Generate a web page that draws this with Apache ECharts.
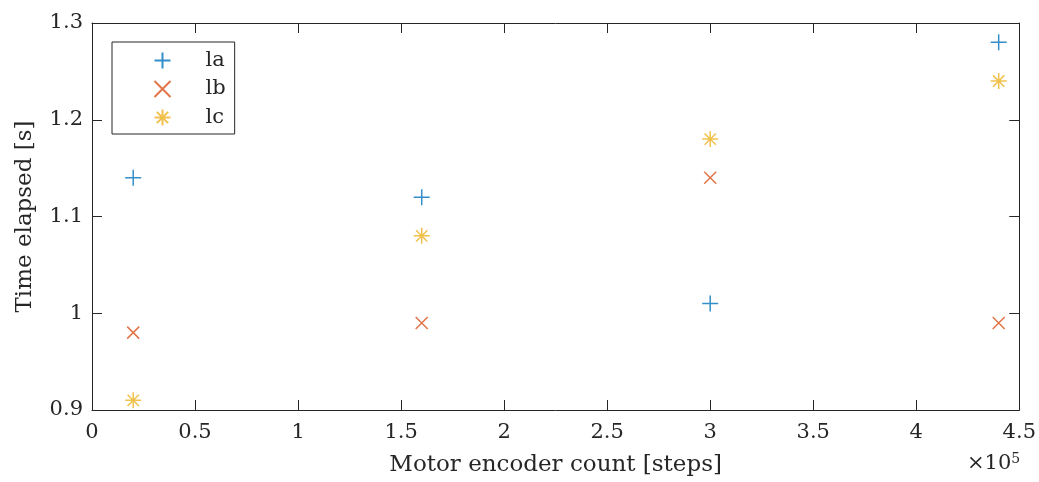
<!DOCTYPE html>
<html><head><meta charset="utf-8">
<script src="https://cdn.jsdelivr.net/npm/echarts@6/dist/echarts.min.js"></script>
<style>html,body{margin:0;padding:0;background:#fff}#c{width:1039px;height:482px}</style>
</head><body><div id="c"></div>
<script>
const xSteps = [20000, 160000, 300000, 440000];
const la = [1.14, 1.12, 1.01, 1.28];
const lb = [0.98, 0.99, 1.14, 0.99];
const lc = [0.91, 1.08, 1.18, 1.24];
const seriesNames = ['la', 'lb', 'lc'];
const xTitle = 'Motor encoder count [steps]';
const yTitle = 'Time elapsed [s]';

const F = '"DejaVu Serif", "Liberation Serif", serif';
const AX = '#262626';
const pair = (ys) => xSteps.map((x, i) => [x, ys[i]]);
const sym = {
  plus: 'path://M0,-1L0,1M-1,0L1,0',
  cross: 'path://M-1,-1L1,1M-1,1L1,-1',
  star: 'path://M0,-1L0,1M-1,0L1,0M-0.7071,-0.7071L0.7071,0.7071M-0.7071,0.7071L0.7071,-0.7071'
};
function mk(name, data, symbol, size, color) {
  return {
    name, type: 'scatter', data, symbol, symbolSize: size,
    itemStyle: { color: 'none', borderColor: color, borderWidth: 1.5 },
    emphasis: { disabled: true }, xAxisIndex: 0, yAxisIndex: 0
  };
}
const chart = echarts.init(document.getElementById('c'));
function baseAxis() {
  return {
    axisLine: { show: true, onZero: false, lineStyle: { color: AX, width: 1 } },
    axisTick: { show: true, inside: true, length: 10, lineStyle: { color: AX, width: 1 } },
    splitLine: { show: false }
  };
}
chart.setOption({
  animation: false,
  grid: { left: 92, right: 17, top: 23, bottom: 71 },
  xAxis: [
    Object.assign(baseAxis(), {
      type: 'value', min: 0, max: 450000, interval: 50000, position: 'bottom',
      axisLabel: { color: AX, fontFamily: F, fontSize: 21, margin: 12,
        formatter: v => String(+(v / 1e5).toFixed(1)) },
      name: xTitle, nameLocation: 'middle', nameGap: 44,
      nameTextStyle: { color: AX, fontFamily: F, fontSize: 23 }
    }),
    Object.assign(baseAxis(), {
      type: 'value', min: 0, max: 450000, interval: 50000, position: 'top',
      axisLabel: { show: false }
    })
  ],
  yAxis: [
    Object.assign(baseAxis(), {
      type: 'value', min: 0.9, max: 1.3, interval: 0.1, position: 'left',
      axisLabel: { color: AX, fontFamily: F, fontSize: 21, margin: 9,
        formatter: v => String(+v.toFixed(1)) },
      name: yTitle, nameLocation: 'middle', nameGap: 55, nameRotate: 90,
      nameTextStyle: { color: AX, fontFamily: F, fontSize: 23 }
    }),
    Object.assign(baseAxis(), {
      type: 'value', min: 0.9, max: 1.3, interval: 0.1, position: 'right',
      axisLabel: { show: false }
    })
  ],
  legend: {
    left: 112, top: 42, orient: 'vertical',
    data: seriesNames,
    padding: [8, 9, 6, 40], itemGap: 7.5, itemWidth: 16, itemHeight: 16,
    borderColor: AX, borderWidth: 1, backgroundColor: '#fff',
    textStyle: { color: AX, fontFamily: F, fontSize: 21, lineHeight: 20, padding: [0, 0, 0, 30] },
    selectedMode: false
  },
  graphic: [{
    type: 'text', left: 967, top: 452,
    style: {
      text: '{a|×10}{b|5}', fill: AX,
      rich: { a: { fontFamily: F, fontSize: 21, fill: AX }, b: { fontFamily: F, fontSize: 14, fill: AX, verticalAlign: 'top', padding: [0, 0, 10, 0] } }
    }
  }],
  series: [
    mk(seriesNames[0], pair(la), sym.plus, 16, '#0072BD'),
    mk(seriesNames[1], pair(lb), sym.cross, 12, '#D95319'),
    mk(seriesNames[2], pair(lc), sym.star, 16, '#EDB120')
  ]
});
</script></body></html>
